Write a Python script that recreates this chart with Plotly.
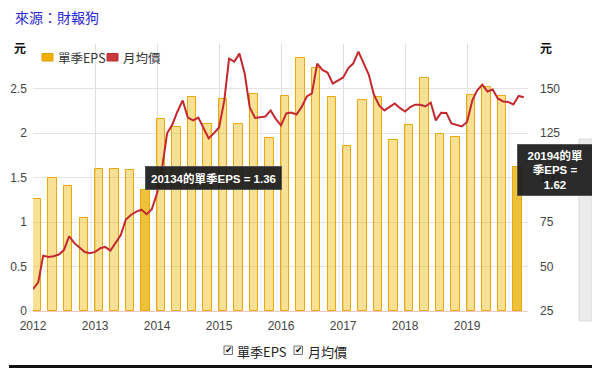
import pandas as pd
import plotly.graph_objects as go

# ---------------- data ----------------
quarters = list(pd.date_range("2012-01-01", "2019-10-01", freq="QS"))
eps = [1.26, 1.50, 1.40, 1.04, 1.60, 1.59, 1.58, 1.36,
       2.16, 2.07, 2.41, 2.10, 2.38, 2.10, 2.44, 1.94,
       2.42, 2.84, 2.73, 2.40, 1.85, 2.37, 2.41, 1.92,
       2.09, 2.62, 1.99, 1.95, 2.43, 2.52, 2.42, 1.62]
highlight_idx = [7, 31]

months = list(pd.date_range("2012-01-01", "2019-12-01", freq="MS"))
price_2012 = [37.3, 41.1, 56.1, 55.3, 55.8, 56.7, 59.2, 67.0, 63.1, 60.6, 58.1, 57.5]
price_2013 = [58.2, 60.3, 61.0, 58.9, 63.1, 67.6, 76.4, 79.1, 80.8, 81.9, 79.4, 82.2]
price_2014 = [91.1, 106.3, 124.8, 129.8, 137.1, 143.3, 133.7, 132.1, 133.7, 128.1, 122.0, 124.8]
price_2015 = [128.1, 143.3, 166.8, 165.1, 169.6, 158.4, 139.3, 133.5, 133.7, 134.3, 137.7, 132.9]
price_2016 = [129.3, 136.0, 136.5, 135.4, 139.5, 145.5, 147.2, 164.0, 160.4, 159.0, 152.8, 154.5]
price_2017 = [156.2, 161.5, 164.0, 170.7, 164.0, 157.8, 146.6, 140.5, 137.7, 139.6, 141.6, 139.1]
price_2018 = [137.1, 139.6, 140.9, 140.9, 139.9, 142.1, 132.1, 136.4, 136.3, 130.4, 129.6, 128.7]
price_2019 = [131.2, 143.3, 148.9, 152.2, 148.3, 149.4, 144.4, 142.7, 142.4, 141.0, 145.8, 145.1]
price = (price_2012 + price_2013 + price_2014 + price_2015 +
         price_2016 + price_2017 + price_2018 + price_2019)

year_ticks = [f"{y}-01-01" for y in range(2012, 2020)]
year_labels = [str(y) for y in range(2012, 2020)]
left_ticks = [0, 0.5, 1, 1.5, 2, 2.5, 3]
left_labels = ["0", "0.5", "1", "1.5", "2", "2.5", ""]
right_ticks = [25, 50, 75, 100, 125, 150, 175]
right_labels = ["25", "50", "75", "100", "125", "150", ""]

title_text = "來源：財報狗"
legend_names = ["單季EPS", "月均價"]
tip1 = "20134的單季EPS = 1.36"
tip2 = "20194的單<br>季EPS =<br>1.62"

# ---------------- layout geometry ----------------
# the page body adds an 8px margin, so the figure is drawn 8px smaller
OFF = 8
W, H = 600 - OFF, 371 - OFF
ML, MR, MT, MB = 25, 72, 36, 60
PW, PH = W - ML - MR, H - MT - MB


def px(x):  # target-screen x -> paper
    return (x - OFF - ML) / PW


def py(y):  # target-screen y -> paper
    return (H - MB - (y - OFF)) / PH


FONT = "Liberation Sans, Arial, Noto Sans CJK TC, sans-serif"
CJK = "Noto Sans CJK TC, Liberation Sans, sans-serif"

bar_fill = ["rgba(240,186,20,0.45)"] * len(eps)
for i in highlight_idx:
    bar_fill[i] = "rgba(236,186,40,0.9)"

fig = go.Figure()
fig.add_trace(go.Bar(
    x=quarters, y=eps, name=legend_names[0],
    width=49 * 86400000, offset=0,
    marker=dict(color=bar_fill, line=dict(color="#e8a90a", width=1)),
    showlegend=False, hoverinfo="skip",
))
fig.add_trace(go.Scatter(
    x=months, y=price, name=legend_names[1], yaxis="y2",
    mode="lines", line=dict(color="#c3282e", width=2),
    showlegend=False, hoverinfo="skip",
))

shapes = []
annotations = []

# outer frame (right and bottom)
shapes.append(dict(type="rect", xref="paper", yref="paper", x0=px(593), x1=px(597), y0=py(9), y1=py(368),
                   fillcolor="#111", line=dict(width=0), layer="above"))
shapes.append(dict(type="rect", xref="paper", yref="paper", x0=px(9), x1=px(597), y0=py(365), y1=py(368),
                   fillcolor="#111", line=dict(width=0), layer="above"))

# scrollbar-like grey strip
shapes.append(dict(type="rect", xref="paper", yref="paper",
                   x0=px(579), x1=px(592), y0=py(321), y1=py(139),
                   fillcolor="#ebebeb", line=dict(color="#dcdcdc", width=1), layer="below"))

# top legend (manual squares)
shapes.append(dict(type="rect", xref="paper", yref="paper",
                   x0=px(42), x1=px(53), y0=py(61), y1=py(53.5),
                   fillcolor="#f0b000", line=dict(color="#e0a000", width=1)))
shapes.append(dict(type="rect", xref="paper", yref="paper",
                   x0=px(107), x1=px(118), y0=py(61), y1=py(53.5),
                   fillcolor="#c93a3a", line=dict(color="#b83030", width=1)))
annotations.append(dict(xref="paper", yref="paper", x=px(56), y=py(57.5), xanchor="left", yanchor="middle",
                        text=legend_names[0], showarrow=False, font=dict(family=CJK, size=12.5, color="#333")))
annotations.append(dict(xref="paper", yref="paper", x=px(121), y=py(57.5), xanchor="left", yanchor="middle",
                        text=legend_names[1], showarrow=False, font=dict(family=CJK, size=12.5, color="#333")))

# bottom checkbox legend
for cx, label, tx in [(224, legend_names[0], 235), (294, legend_names[1], 306)]:
    shapes.append(dict(type="rect", xref="paper", yref="paper",
                       x0=px(cx), x1=px(cx + 8.5), y0=py(354.5), y1=py(346),
                       fillcolor="#f4f4f4", line=dict(color="#777", width=1)))
    annotations.append(dict(xref="paper", yref="paper", x=px(cx + 4.5), y=py(349.5), xanchor="center",
                            yanchor="middle", text="✔", showarrow=False,
                            font=dict(family="DejaVu Sans", size=9, color="#111")))
    annotations.append(dict(xref="paper", yref="paper", x=px(tx), y=py(351.5), xanchor="left",
                            yanchor="middle", text=label, showarrow=False,
                            font=dict(family=CJK, size=13, color="#222")))

# title and axis units
annotations.append(dict(xref="paper", yref="paper", x=px(13), y=py(17), xanchor="left", yanchor="middle",
                        text=title_text, showarrow=False, font=dict(family=CJK, size=14, color="#2a2ad4")))
annotations.append(dict(xref="paper", yref="paper", x=px(19.5), y=py(47), xanchor="center", yanchor="middle",
                        text="<b>元</b>", showarrow=False, font=dict(family=CJK, size=12, color="#111")))
annotations.append(dict(xref="paper", yref="paper", x=px(545.5), y=py(47), xanchor="center", yanchor="middle",
                        text="<b>元</b>", showarrow=False, font=dict(family=CJK, size=12, color="#111")))

# tooltips
annotations.append(dict(xref="paper", yref="paper", x=px(213.5), y=py(178), xanchor="center", yanchor="middle",
                        text="<b>" + tip1 + "</b>", showarrow=False, width=131, height=18,
                        bgcolor="rgba(25,25,25,0.92)", bordercolor="#555", borderwidth=1, borderpad=2,
                        font=dict(family=FONT, size=11.5, color="white")))
annotations.append(dict(xref="paper", yref="paper", x=px(554.5), y=py(169.5), xanchor="center", yanchor="middle",
                        text="<b>" + tip2 + "</b>", showarrow=False, width=70, height=46,
                        bgcolor="rgba(25,25,25,0.92)", bordercolor="#555", borderwidth=1, borderpad=2,
                        font=dict(family=FONT, size=11.5, color="white")))

fig.update_layout(
    width=W, height=H,
    margin=dict(l=ML, r=MR, t=MT, b=MB, autoexpand=False),
    paper_bgcolor="white", plot_bgcolor="white",
    bargap=0,
    xaxis=dict(type="date", range=["2012-01-01", "2019-12-26"],
               tickvals=year_ticks, ticktext=year_labels, automargin=False,
               showgrid=True, gridcolor="#dedede", gridwidth=1,
               zeroline=False, showline=True, linecolor="#f2c4c4", linewidth=1,
               ticks="", ticklabelstandoff=4,
               tickfont=dict(family=FONT, size=12, color="#444")),
    yaxis=dict(range=[0, 3], tickvals=left_ticks, ticktext=left_labels, automargin=False,
               showgrid=True, gridcolor="#e4e4e4", zeroline=False,
               ticks="", ticklabelstandoff=5,
               tickfont=dict(family=FONT, size=12, color="#444")),
    yaxis2=dict(range=[25, 175], tickvals=right_ticks, ticktext=right_labels, automargin=False,
                overlaying="y", side="right", showgrid=False, zeroline=False,
                ticks="", ticklabelstandoff=11,
                tickfont=dict(family=FONT, size=12, color="#444")),
    shapes=shapes, annotations=annotations,
    showlegend=False,
)

fig.write_html("out.html")
